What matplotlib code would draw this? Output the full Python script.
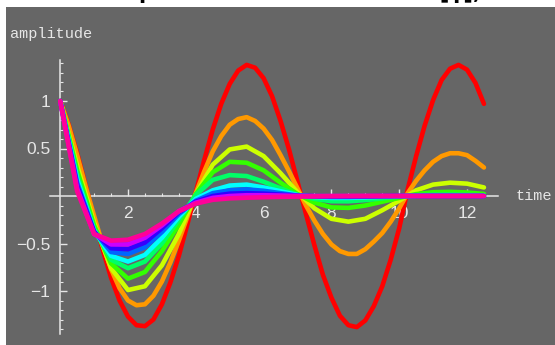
import matplotlib
matplotlib.use("Agg")
import matplotlib.pyplot as plt
from matplotlib.patches import Rectangle
from matplotlib.ticker import FixedLocator, FixedFormatter

plt.rcParams['font.family'] = ['Liberation Sans', 'DejaVu Sans']

# values; the two big curves every 0.25, the rest every 0.5
t_fine = [0, 0.25, 0.5, 0.75, 1, 1.25, 1.5, 1.75, 2, 2.25, 2.5, 2.75, 3, 3.25, 3.5, 3.75,
          4, 4.25, 4.5, 4.75, 5, 5.25, 5.5, 5.75, 6, 6.25, 6.5, 6.75, 7, 7.25, 7.5, 7.75,
          8, 8.25, 8.5, 8.75, 9, 9.25, 9.5, 9.75, 10, 10.25, 10.5, 10.75, 11, 11.25, 11.5,
          11.75, 12, 12.25, 12.5]
t = [0, 0.5, 1, 1.5, 2, 2.5, 3, 3.5, 4, 4.5, 5, 5.5, 6, 6.5, 7, 7.5, 8, 8.5,
     9, 9.5, 10, 10.5, 11, 11.5, 12, 12.5]

red = [1.00, 0.75, 0.45, 0.11, -0.23, -0.56, -0.86, -1.10, -1.27, -1.36, -1.37, -1.30, -1.14,
       -0.91, -0.63, -0.30, 0.04, 0.38, 0.70, 0.97, 1.18, 1.32, 1.38, 1.35, 1.24, 1.05, 0.79,
       0.49, 0.15, -0.19, -0.52, -0.83, -1.07, -1.26, -1.36, -1.38, -1.31, -1.16, -0.95, -0.67,
       -0.34, 0.07, 0.42, 0.74, 1.01, 1.22, 1.34, 1.38, 1.33, 1.19, 0.97]
orange = [1.00, 0.74, 0.43, 0.10, -0.21, -0.51, -0.77, -0.97, -1.10, -1.15, -1.14, -1.05, -0.90,
          -0.70, -0.47, -0.22, 0.03, 0.26, 0.47, 0.63, 0.75, 0.81, 0.83, 0.79, 0.71, 0.59, 0.43,
          0.26, 0.08, -0.10, -0.26, -0.40, -0.51, -0.58, -0.61, -0.61, -0.56, -0.48, -0.39, -0.27,
          -0.13, 0.03, 0.16, 0.27, 0.36, 0.42, 0.45, 0.45, 0.43, 0.37, 0.30]
yellow = [1.00, 0.32, -0.28, -0.76, -0.99, -0.95, -0.73, -0.40, 0.02, 0.33, 0.49, 0.52, 0.42,
          0.24, 0.04, -0.13, -0.24, -0.27, -0.24, -0.15, -0.05, 0.06, 0.12, 0.14, 0.13, 0.09]
green = [1.00, 0.27, -0.31, -0.71, -0.87, -0.80, -0.58, -0.30, 0.02, 0.25, 0.36, 0.35, 0.27,
         0.14, 0.02, -0.07, -0.12, -0.125, -0.10, -0.06, -0.02, 0.02, 0.04, 0.044, 0.037, 0.022]
spring = [1.00, 0.22, -0.35, -0.67, -0.76, -0.69, -0.50, -0.25, 0.01, 0.17, 0.22, 0.21, 0.15,
          0.08, 0.01, -0.03, -0.055, -0.056, -0.043, -0.025, -0.007, 0.007, 0.014, 0.015, 0.012, 0.007]
cyan = [1.00, 0.18, -0.36, -0.63, -0.69, -0.62, -0.44, -0.22, -0.03, 0.06, 0.11, 0.12, 0.09,
        0.05, 0.01, -0.01, -0.02, -0.02, -0.015, -0.008, -0.002, 0.002, 0.004, 0.004, 0.003, 0.002]
azure = [1.00, 0.14, -0.37, -0.59, -0.61, -0.54, -0.38, -0.19, -0.05, 0.03, 0.06, 0.07, 0.055,
         0.03, 0.005, -0.005, -0.01, -0.01, -0.007, -0.003, 0.0, 0.001, 0.002, 0.002, 0.001, 0.0]
blue = [1.00, 0.11, -0.38, -0.55, -0.56, -0.49, -0.34, -0.17, -0.06, 0.0, 0.025, 0.03, 0.025,
        0.015, 0.003, -0.002, -0.004, -0.004, -0.003, -0.001, 0, 0, 0, 0, 0, 0]
violet = [1.00, 0.08, -0.40, -0.51, -0.51, -0.44, -0.31, -0.16, -0.07, -0.02, 0.0, 0.008, 0.008,
          0.005, 0.001, 0, 0, 0, 0, 0, 0, 0, 0, 0, 0, 0]
pink = [1.00, 0.05, -0.40, -0.47, -0.46, -0.40, -0.29, -0.16, -0.08, -0.04, -0.025, -0.018, -0.013,
        -0.009, -0.006, -0.004, -0.002, -0.001, 0, 0, 0, 0, 0, 0, 0, 0]

series = [(t_fine, red), (t_fine, orange), (t, yellow), (t, green), (t, spring),
          (t, cyan), (t, azure), (t, blue), (t, violet), (t, pink)]
colors = ['#ff0000', '#ff9900', '#ccff00', '#33ff00', '#00ff66',
          '#00ffff', '#0066ff', '#3300ff', '#cc00ff', '#ff0099']

xticks = [2, 4, 6, 8, 10, 12]
xlabels = ['2', '4', '6', '8', '10', '12']
yticks = [-1, -0.5, 0.5, 1]
ylabels = ['\u22121', '\u22120.5', '0.5', '1']

fig = plt.figure(figsize=(5.55, 3.45), dpi=100)
fig.add_artist(Rectangle((6 / 555, 0), 549 / 555, 338 / 345, transform=fig.transFigure,
                         facecolor='#666666', edgecolor='none', zorder=-1))
# title sits mostly above the top edge, as in the reference
fig.text(0.51, 1 + 1 / 345, 'Damped Harmonic Motion for [\u03b3],', ha='center',
         va='baseline', fontsize=15, weight='bold', color='black', family='DejaVu Sans')

ax = fig.add_axes([0, 0, 1, 1])
ax.patch.set_visible(False)

for (x, s), c in zip(series, colors):
    ax.plot(x, s, color=c, lw=3.3, solid_capstyle='round', solid_joinstyle='round')

# pixel mapping: origin at (60.2, 196), 33.9 px per time unit, 95 px per amplitude unit
ax.set_xlim(-60.2 / 33.9, (555 - 60.2) / 33.9)
ax.set_ylim(-149 / 95, 196 / 95)

for side in ['top', 'right']:
    ax.spines[side].set_visible(False)
ax.spines['left'].set_position(('data', 0))
ax.spines['bottom'].set_position(('data', 0))
ax.spines['left'].set_bounds(-1.45, 1.43)
ax.spines['bottom'].set_bounds(-0.3, 12.9)
for side in ['left', 'bottom']:
    ax.spines[side].set_color('#e6e6e6')
    ax.spines[side].set_linewidth(1.1)
    ax.spines[side].set_zorder(1)

ax.xaxis.set_major_locator(FixedLocator(xticks))
ax.xaxis.set_major_formatter(FixedFormatter(xlabels))
ax.xaxis.set_minor_locator(FixedLocator([i * 0.5 for i in range(1, 26)]))
ax.yaxis.set_major_locator(FixedLocator(yticks))
ax.yaxis.set_major_formatter(FixedFormatter(ylabels))
ax.yaxis.set_minor_locator(FixedLocator([i / 10 for i in range(-14, 15) if i != 0]))

ax.tick_params(which='both', direction='in', color='#e6e6e6', labelcolor='#e6e6e6')
ax.tick_params(which='major', length=5, width=1, labelsize=12.5, pad=7)
ax.tick_params(which='minor', length=2.5, width=0.8)

ax.text(-1.48, 1.66, 'amplitude', family='Liberation Mono', fontsize=11,
        color='#e6e6e6', va='baseline')
ax.text(13.42, 0, 'time', family='Liberation Mono', fontsize=11,
        color='#e6e6e6', va='center')

fig.savefig('out.png', dpi=100)
